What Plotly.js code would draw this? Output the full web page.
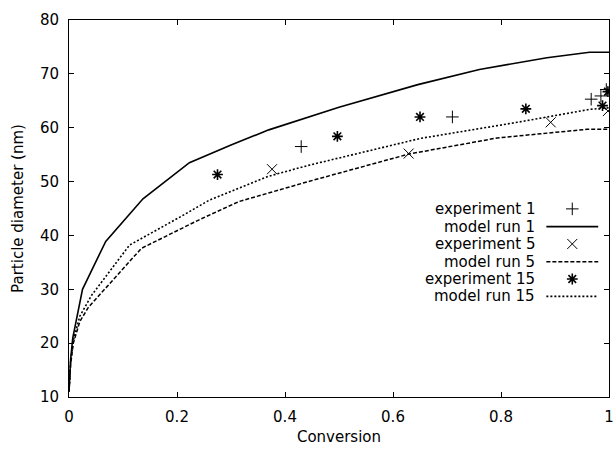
<!DOCTYPE html>
<html><head><meta charset="utf-8">
<script src="https://cdn.plot.ly/plotly-3.0.1.min.js"></script>
<style>html,body{margin:0;padding:0;background:#fff}#plot{width:615px;height:449px}</style>
</head><body><div id="plot"></div>
<script>
// Data
const model1X = [0, 0.003, 0.007, 0.025, 0.068, 0.137, 0.223, 0.30, 0.37, 0.443, 0.50, 0.646, 0.76, 0.885, 0.964, 1.0];
const model1Y = [11, 17, 21, 30, 38.9, 46.8, 53.5, 56.8, 59.6, 62.0, 63.8, 68.0, 70.8, 73.0, 74.0, 74.0];
const model5X = [0, 0.003, 0.008, 0.02, 0.0355, 0.08, 0.134, 0.241, 0.315, 0.443, 0.629, 0.793, 0.959, 1.0];
const model5Y = [11, 16, 20, 24, 26.6, 31.5, 37.6, 42.9, 46.3, 50.0, 55.1, 58.1, 59.7, 59.7];
const model15X = [0, 0.003, 0.008, 0.02, 0.042, 0.112, 0.207, 0.259, 0.37, 0.443, 0.65, 0.83, 0.964, 1.0];
const model15Y = [11, 16.5, 20.5, 25, 28.9, 38.2, 43.5, 46.5, 51.0, 53.0, 58.0, 61.0, 63.4, 63.7];
const exp1X = [0.43, 0.71, 0.967, 0.985, 0.995];
const exp1Y = [56.5, 62.0, 65.3, 65.9, 67.1];
const exp5X = [0.376, 0.629, 0.892, 0.998];
const exp5Y = [52.3, 55.2, 61.0, 63.1];
const exp15X = [0.275, 0.497, 0.65, 0.846, 0.988, 0.998];
const exp15Y = [51.3, 58.4, 62.0, 63.5, 64.1, 66.7];
const legendLabels = ["experiment 1", "model run 1", "experiment 5", "model run 5", "experiment 15", "model run 15"];
const xTicks = [0, 0.2, 0.4, 0.6, 0.8, 1];
const xTickText = ["0", "0.2", "0.4", "0.6", "0.8", "1"];
const yTicks = [10, 20, 30, 40, 50, 60, 70, 80];

const solid = {color:'#000', width:1.6, dash:'solid'};
const dashed = {color:'#000', width:1.5, dash:'4px,2px'};
const dotted = {color:'#000', width:1.6, dash:'2px,2px'};
const mPlus = {symbol:'cross-thin-open', size:9, color:'#000', line:{color:'#000', width:1}};
const mX = {symbol:'x-thin-open', size:10, color:'#000', line:{color:'#000', width:1}};
const mStar = {symbol:'asterisk-open', size:9, color:'#000', line:{color:'#000', width:1.6}};

const traces = [
  {x:model1X, y:model1Y, mode:'lines', line:solid},
  {x:model5X, y:model5Y, mode:'lines', line:dashed},
  {x:model15X, y:model15Y, mode:'lines', line:dotted},
  {x:exp1X, y:exp1Y, mode:'markers', marker:mPlus},
  {x:exp5X, y:exp5Y, mode:'markers', marker:mX},
  {x:exp15X, y:exp15Y, mode:'markers', marker:mStar}
];

// Custom gnuplot-style legend on an overlay axis (0..1)
const legRowY = [0.499, 0.452, 0.406, 0.359, 0.313, 0.267];
const legLineX = [0.884, 0.980];
const legMarkX = 0.932;
const legStyles = [{m:mPlus},{l:solid},{m:mX},{l:dashed},{m:mStar},{l:dotted}];
legStyles.forEach((s,i)=>{
  if (s.m) traces.push({x:[legMarkX], y:[legRowY[i]], mode:'markers', marker:s.m, xaxis:'x2', yaxis:'y2'});
  else traces.push({x:legLineX, y:[legRowY[i], legRowY[i]], mode:'lines', line:s.l, xaxis:'x2', yaxis:'y2'});
});
traces.forEach(t=>{t.showlegend=false; t.hoverinfo='skip';});

const FAM = 'DejaVu Sans, Liberation Sans, Arial, sans-serif';
const annotations = legendLabels.map((lab,i)=>({
  text: lab, xref:'paper', yref:'paper', x:0.866, y:legRowY[i],
  xanchor:'right', yanchor:'middle', showarrow:false,
  font:{family:FAM, size:15, color:'#000'}
}));

const axFont = {family:FAM, size:15, color:'#000'};
const layout = {
  width:615, height:449,
  margin:{l:69, r:6, t:20, b:52},
  paper_bgcolor:'#fff', plot_bgcolor:'#fff',
  showlegend:false,
  font: axFont,
  xaxis:{range:[0,1], tickvals:xTicks, ticktext:xTickText, ticks:'inside', ticklen:5, tickwidth:1, tickcolor:'#000',
         showline:true, linecolor:'#000', linewidth:1, mirror:'ticks', showgrid:false, zeroline:false,
         ticklabeloverflow:'allow', ticklabelstandoff:6,
         tickfont:axFont, title:{text:'Conversion', font:axFont, standoff:6}},
  yaxis:{range:[10,80], tickvals:yTicks, ticks:'inside', ticklen:5, tickwidth:1, tickcolor:'#000',
         showline:true, linecolor:'#000', linewidth:1, mirror:'ticks', showgrid:false, zeroline:false,
         ticklabelstandoff:6,
         tickfont:axFont, title:{text:'Particle diameter (nm)', font:axFont, standoff:12}},
  xaxis2:{range:[0,1], overlaying:'x', visible:false, fixedrange:true},
  yaxis2:{range:[0,1], overlaying:'y', visible:false, fixedrange:true},
  annotations: annotations
};
Plotly.newPlot('plot', traces, layout, {staticPlot:true, displayModeBar:false});
</script>
</body></html>
